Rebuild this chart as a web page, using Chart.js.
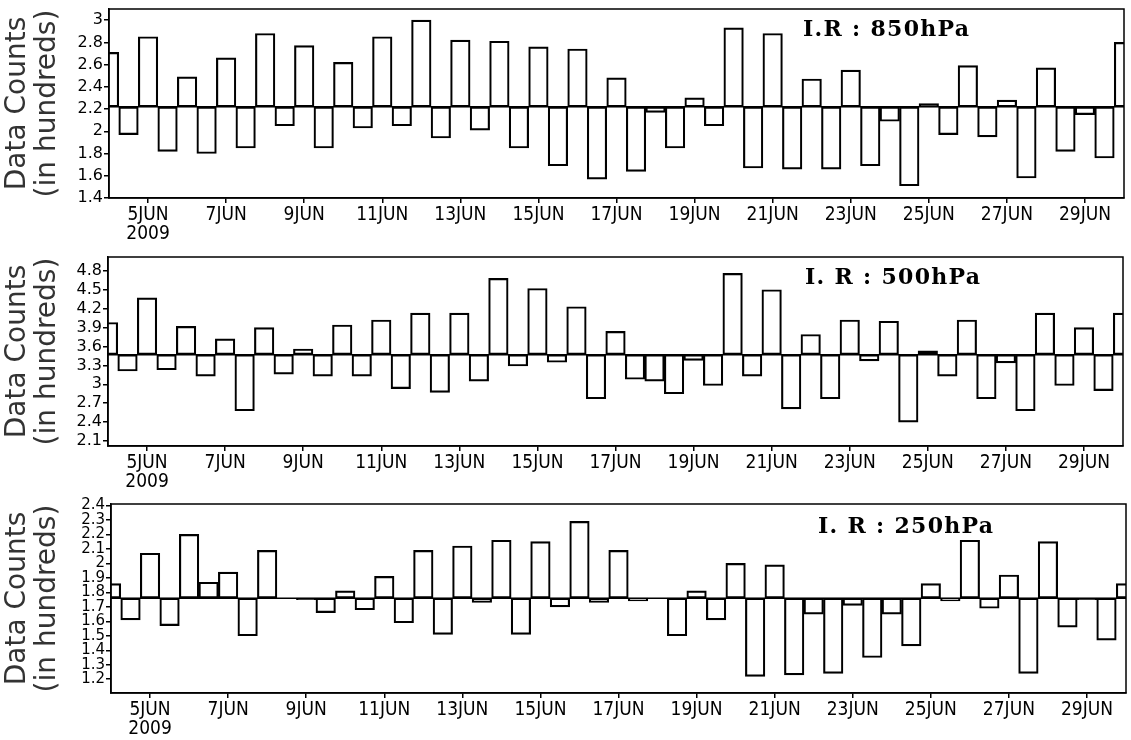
<!DOCTYPE html>
<html>
<head>
<meta charset="utf-8">
<script src="https://cdn.jsdelivr.net/npm/chart.js@4.4.0/dist/chart.umd.min.js"></script>
<style>
  html, body { margin: 0; padding: 0; background: #fff; }
  canvas { display: block; }
</style>
</head>
<body>
<canvas id="c850" width="1131" height="247"></canvas>
<canvas id="c500" width="1131" height="247"></canvas>
<canvas id="c250" width="1131" height="246"></canvas>
<script>
// counts in hundreds, one bar per 00/12 UTC from 4JUN00 to 30JUN00
const ir850 = [2.71, 1.97, 2.85, 1.82, 2.49, 1.80, 2.66, 1.85, 2.88, 2.05,
               2.77, 1.85, 2.62, 2.03, 2.85, 2.05, 3.00, 1.94, 2.82, 2.01,
               2.81, 1.85, 2.76, 1.69, 2.74, 1.57, 2.48, 1.64, 2.17, 1.85,
               2.30, 2.05, 2.93, 1.67, 2.88, 1.66, 2.47, 1.66, 2.55, 1.69,
               2.09, 1.51, 2.25, 1.97, 2.59, 1.95, 2.28, 1.58, 2.57, 1.82,
               2.15, 1.76, 2.80];
const ir500 = [3.98, 3.21, 4.37, 3.23, 3.92, 3.13, 3.72, 2.58, 3.90, 3.16,
               3.56, 3.13, 3.94, 3.13, 4.02, 2.93, 4.13, 2.87, 4.13, 3.05,
               4.68, 3.29, 4.52, 3.35, 4.23, 2.77, 3.84, 3.08, 3.05, 2.85,
               3.38, 2.98, 4.76, 3.13, 4.50, 2.61, 3.79, 2.77, 4.02, 3.37,
               4.00, 2.40, 3.53, 3.13, 4.02, 2.77, 3.34, 2.58, 4.13, 2.98,
               3.90, 2.90, 4.13];
const ir250 = [1.86, 1.61, 2.07, 1.57, 2.20, 1.87, 1.94, 1.50, 2.09, 1.76,
               1.75, 1.66, 1.81, 1.68, 1.91, 1.59, 2.09, 1.51, 2.12, 1.73,
               2.16, 1.51, 2.15, 1.70, 2.29, 1.73, 2.09, 1.74, 1.76, 1.50,
               1.81, 1.61, 2.00, 1.22, 1.99, 1.23, 1.65, 1.24, 1.71, 1.35,
               1.65, 1.43, 1.86, 1.74, 2.16, 1.69, 1.92, 1.24, 2.15, 1.56,
               1.75, 1.47, 1.86];

// mean line of each level
const mean850 = 2.22;
const mean500 = 3.47;
const mean250 = 1.76;

const yTicks850 = [1.4, 1.6, 1.8, 2, 2.2, 2.4, 2.6, 2.8, 3];
const yTicks500 = [2.1, 2.4, 2.7, 3, 3.3, 3.6, 3.9, 4.2, 4.5, 4.8];
const yTicks250 = [1.2, 1.3, 1.4, 1.5, 1.6, 1.7, 1.8, 1.9, 2, 2.1, 2.2, 2.3, 2.4];

// x axis in days after 4JUN 00UTC
const xTickDays = [1, 3, 5, 7, 9, 11, 13, 15, 17, 19, 21, 23, 25];
const xTickLabels = ['5JUN', '7JUN', '9JUN', '11JUN', '13JUN', '15JUN', '17JUN',
                     '19JUN', '21JUN', '23JUN', '25JUN', '27JUN', '29JUN'];
const yearLabel = '2009';

const tickFont = "'Liberation Sans Narrow', 'DejaVu Sans Condensed', sans-serif";

const panelPlugin = {
  id: 'panel',
  afterDraw(chart, args, opts) {
    const { ctx, chartArea: a } = chart;
    ctx.save();
    ctx.strokeStyle = '#000';
    ctx.lineWidth = 1.5;
    ctx.strokeRect(a.left, a.top, a.right - a.left, a.bottom - a.top);
    ctx.font = "bold 22px 'DejaVu Serif', serif";
    ctx.letterSpacing = '1.3px';
    ctx.fillStyle = '#000';
    ctx.textBaseline = 'alphabetic';
    ctx.fillText(opts.text, a.left + opts.dx, a.top + opts.dy);
    ctx.restore();
  }
};

function makePanel(id, values, mean, yMin, yMax, yTicks, yFontSize, text, geo) {
  const halfDays = values.map((v, i) => i * 0.5);
  return new Chart(document.getElementById(id), {
    type: 'bar',
    data: {
      datasets: [{
        type: 'line',
        data: [{ x: 0, y: mean }, { x: 26, y: mean }],
        borderColor: '#000',
        borderWidth: 1.5,
        pointRadius: 0
      }, {
        type: 'bar',
        data: values.map((v, i) => ({ x: halfDays[i], y: [mean, v] })),
        backgroundColor: 'rgba(0,0,0,0)',
        borderColor: '#000',
        borderWidth: 1.5,
        borderSkipped: false,
        barPercentage: 1,
        categoryPercentage: 1
      }]
    },
    options: {
      responsive: false,
      animation: false,
      devicePixelRatio: 1,
      layout: { padding: { top: geo.top, right: geo.right, left: 0, bottom: 0 } },
      plugins: {
        legend: { display: false },
        tooltip: { enabled: false },
        panel: { text: text, dx: geo.dx, dy: geo.dy }
      },
      scales: {
        x: {
          type: 'linear',
          min: 0,
          max: 26,
          offset: false,
          grid: { offset: false, drawOnChartArea: false, tickLength: 5, color: '#000', lineWidth: 1.5 },
          border: { color: '#000', width: 1.5 },
          afterBuildTicks: s => { s.ticks = xTickDays.map(v => ({ value: v })); },
          ticks: {
            autoSkip: false,
            maxRotation: 0,
            padding: 3,
            color: '#000',
            font: { family: tickFont, size: 19, lineHeight: 1.0 },
            callback: (v, i) => i === 0 ? [xTickLabels[0], yearLabel] : xTickLabels[i]
          },
          afterFit: s => { s.height = geo.xh; s.paddingLeft = 0; s.paddingRight = 0; }
        },
        y: {
          min: yMin,
          max: yMax,
          grid: { drawOnChartArea: false, tickLength: 5, color: '#000', lineWidth: 1.5 },
          border: { color: '#000', width: 1.5 },
          afterBuildTicks: s => { s.ticks = yTicks.map(v => ({ value: v })); },
          ticks: {
            autoSkip: false,
            padding: 1,
            color: '#000',
            font: { family: "'DejaVu Sans', sans-serif", size: yFontSize },
            callback: v => String(v)
          },
          title: {
            display: true,
            text: ['Data Counts', '(in hundreds)'],
            color: '#333',
            font: { family: "'DejaVu Sans', sans-serif", size: 28, lineHeight: 1.1 },
            padding: { top: 2, bottom: 0 }
          },
          afterFit: s => { s.width = geo.left; s.paddingTop = 0; s.paddingBottom = 0; }
        }
      }
    },
    plugins: [panelPlugin]
  });
}

makePanel('c850', ir850, mean850, 1.4, 3.1, yTicks850, 16, 'I.R : 850hPa',
  { top: 9, right: 7, left: 109, xh: 49, dx: 694, dy: 27 });
makePanel('c500', ir500, mean500, 2.02, 5.02, yTicks500, 16, 'I. R : 500hPa',
  { top: 10, right: 8, left: 108, xh: 48, dx: 697, dy: 27 });
makePanel('c250', ir250, mean250, 1.105, 2.41, yTicks250, 15, 'I. R : 250hPa',
  { top: 10, right: 5, left: 111, xh: 47, dx: 707, dy: 29 });
</script>
</body>
</html>
